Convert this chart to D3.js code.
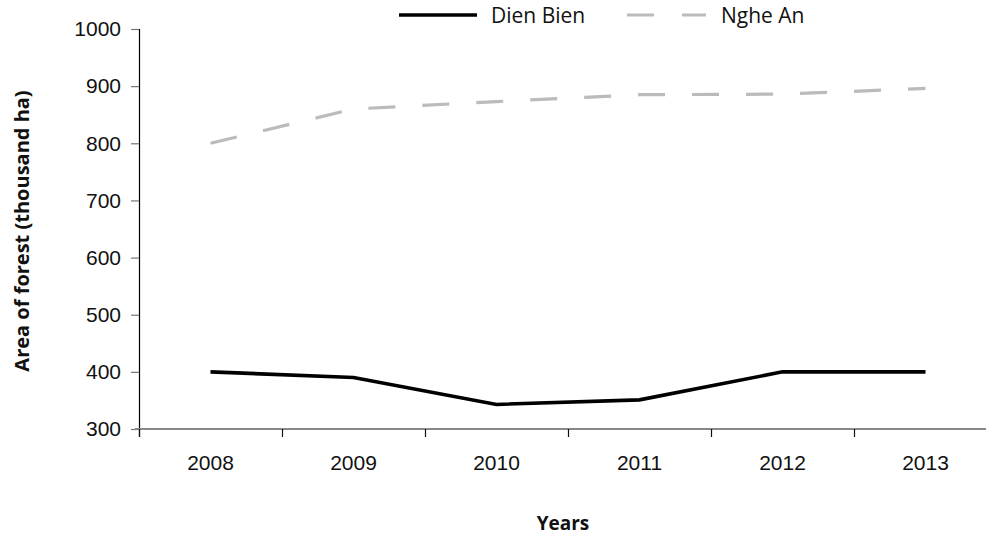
<!DOCTYPE html>
<html>
<head>
<meta charset="utf-8">
<script src="https://cdn.jsdelivr.net/npm/d3@7"></script>
<style>
  html, body { margin: 0; padding: 0; background: #fff; }
  svg { display: block; font-family: "Open Sans", "Noto Sans", sans-serif; }
</style>
</head>
<body>
<svg id="chart" width="986" height="536"></svg>
<script>
const years = ["2008", "2009", "2010", "2011", "2012", "2013"];
const dienBien = [400, 390, 343, 351, 400, 400];
const ngheAn = [800, 860, 873, 885, 886, 896];
const yTicks = [300, 400, 500, 600, 700, 800, 900, 1000];
const seriesNames = ["Dien Bien", "Nghe An"];

const svg = d3.select("#chart");
const x0 = 139, step = 143;
const x = d3.scaleBand().domain(years).range([x0, x0 + step * years.length]);
const y = d3.scaleLinear().domain([300, 1000]).range([429, 29]);

// Y axis
const yAxis = svg.append("g").attr("transform", `translate(${x0},0)`)
  .call(d3.axisLeft(y).tickValues(yTicks).tickSize(8).tickPadding(10).tickFormat(d3.format("d")));
yAxis.select(".domain").attr("stroke", "#000").attr("stroke-width", 1.2).attr("d", `M0.5,${y(1000)}V${y(300) + 8}`);
yAxis.selectAll(".tick line").attr("stroke", "#777").attr("stroke-width", 1.2);
yAxis.selectAll(".tick text").attr("font-size", 21).attr("fill", "#111");

// X axis
const xAxis = svg.append("g").attr("transform", `translate(0,${y(300)})`)
  .call(d3.axisBottom(x).tickSize(0).tickPadding(26));
xAxis.select(".domain").remove();
svg.append("line").attr("x1", x0 - 4).attr("x2", 986).attr("y1", y(300)).attr("y2", y(300))
  .attr("stroke", "#888").attr("stroke-width", 2);
xAxis.selectAll(".tick text").attr("font-size", 21).attr("fill", "#111");
// boundary ticks between categories
svg.append("g").selectAll("line").data(years).join("line")
  .attr("x1", d => x(d) + 0.5).attr("x2", d => x(d) + 0.5)
  .attr("y1", y(300)).attr("y2", y(300) + 8)
  .attr("stroke", "#111").attr("stroke-width", 1.2);

const cx = d => x(d) + x.bandwidth() / 2;
const line = d3.line().x((d, i) => cx(years[i])).y(d => y(d));

svg.append("path").datum(ngheAn).attr("d", line)
  .attr("fill", "none").attr("stroke", "#bbbbbb").attr("stroke-width", 3.2)
  .attr("stroke-dasharray", "27,27");
svg.append("path").datum(dienBien).attr("d", line)
  .attr("fill", "none").attr("stroke", "#000").attr("stroke-width", 3.6)
  .attr("stroke-linejoin", "miter");

// Legend
const lg = svg.append("g");
lg.append("line").attr("x1", 399).attr("x2", 477).attr("y1", 15).attr("y2", 15)
  .attr("stroke", "#000").attr("stroke-width", 3.6);
lg.append("text").attr("x", 491).attr("y", 23).attr("font-size", 21).attr("fill", "#111").text(seriesNames[0]);
lg.append("line").attr("x1", 627).attr("x2", 706).attr("y1", 15).attr("y2", 15)
  .attr("stroke", "#bbbbbb").attr("stroke-width", 3.2).attr("stroke-dasharray", "27,28");
lg.append("text").attr("x", 721).attr("y", 23).attr("font-size", 21).attr("fill", "#111").text(seriesNames[1]);

// Axis titles
svg.append("text").attr("x", 563).attr("y", 530).attr("text-anchor", "middle")
  .attr("font-size", 19).attr("font-weight", "bold").attr("fill", "#111").text("Years");
svg.append("text").attr("transform", "translate(29,231) rotate(-90)").attr("text-anchor", "middle")
  .attr("font-size", 20).attr("font-weight", "bold").attr("fill", "#111").text("Area of forest (thousand ha)");
</script>
</body>
</html>
